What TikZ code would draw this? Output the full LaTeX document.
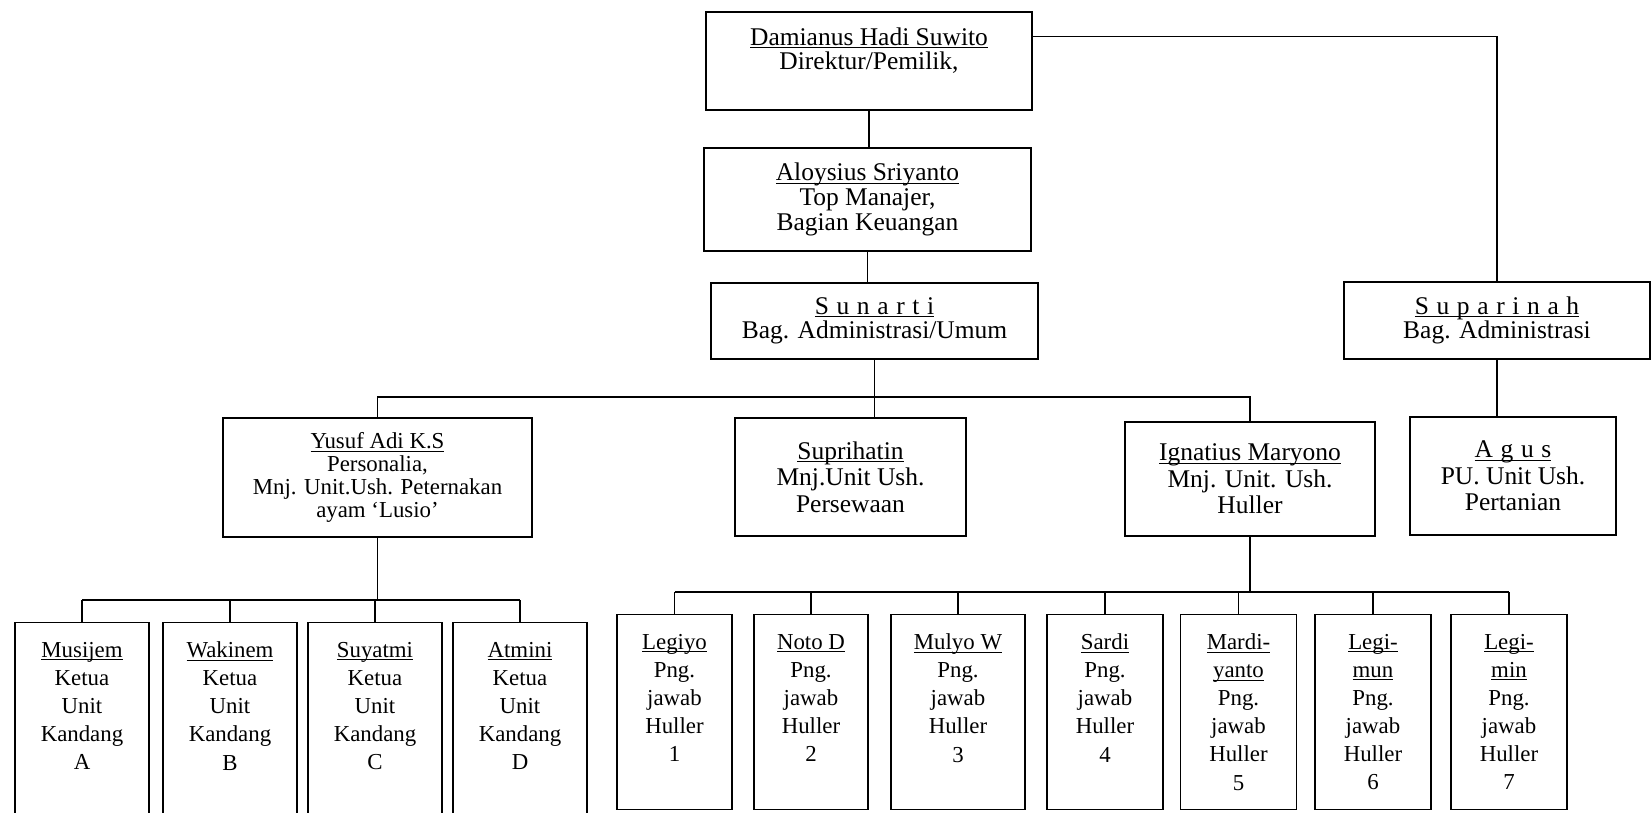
\documentclass[tikz,border=0pt]{standalone}
\usepackage{fontspec}
\setmainfont{Liberation Serif}
\usetikzlibrary{calc}
\newcommand{\spaced}[1]{{\addfontfeature{LetterSpace=30}#1}}
\newcommand{\nm}[1]{\underline{\raisebox{0pt}[\height][0pt]{#1}}}
\tikzset{
  box/.style={draw,line width=0.9pt,align=center,inner sep=0pt},
  big/.style={box,font=\fontsize{14.5}{14}\selectfont},
  mid/.style={box,font=\fontsize{14.5}{15}\selectfont},
  unit/.style={box,font=\fontsize{13}{16}\selectfont,minimum height=3.9cm},
  link/.style={line width=0.7pt},
}
\begin{document}
\begin{tikzpicture}
  \useasboundingbox (0,0) rectangle (33.04,16.26);
  % top of the chart
  \node[big,minimum width=6.52cm,minimum height=1.96cm] (damianus) at (17.38,15.04) {\nm{Damianus Hadi Suwito}\\Direktur/Pemilik,\\ {}};
  \node[big,minimum width=6.54cm,minimum height=2.06cm] (aloysius) at (17.35,12.27) {\nm{Aloysius Sriyanto}\\Top Manajer,\\Bagian Keuangan};
  \node[big,minimum width=6.54cm,minimum height=1.52cm] (sunarti) at (17.49,9.84) {\nm{\spaced{Sunarti}}\\Bag. Administrasi/Umum};
  \node[big,minimum width=6.12cm,minimum height=1.54cm] (suparinah) at (29.94,9.85) {\nm{\spaced{Suparinah}}\\Bag. Administrasi};
  % managers
  \node[box,font=\fontsize{13}{13}\selectfont,minimum width=6.18cm,minimum height=2.38cm] (yusuf) at (7.55,6.71) {\nm{Yusuf Adi K.S}\\Personalia,\\Mnj. Unit.Ush. Peternakan\\ayam ‘Lusio’};
  \node[mid,minimum width=4.62cm,minimum height=2.36cm] (suprihatin) at (17.01,6.72) {\nm{Suprihatin}\\Mnj.Unit Ush.\\Persewaan};
  \node[mid,minimum width=5cm,minimum height=2.28cm] (ignatius) at (25.0,6.68) {\nm{Ignatius Maryono}\\Mnj. Unit. Ush.\\Huller};
  \node[mid,minimum width=4.12cm,minimum height=2.36cm] (agus) at (30.26,6.74) {\nm{\spaced{Agus}}\\PU. Unit Ush.\\Pertanian};
  % kandang
  \foreach \nama/\x/\k in {Musijem/1.64/A,Wakinem/4.60/B,Suyatmi/7.50/C,Atmini/10.40/D}
    \node[unit,minimum width=2.68cm] (kandang\k) at (\x,1.86) {\nm{\nama}\\Ketua\\Unit\\Kandang\\\k\\ {}};
  % huller
  \foreach \nama/\x/\w/\i in {Legiyo/13.49/2.30/1,{Noto D}/16.22/2.28/2,{Mulyo W}/19.16/2.68/3,Sardi/22.10/2.32/4}
    \node[unit,minimum width=\w cm] (huller\i) at (\x,2.02) {\nm{\nama}\\Png.\\jawab\\Huller\\\i\\ {}};
  \foreach \nama/\sisa/\x/\i in {Mardi-/yanto/24.77/5,Legi-/mun/27.46/6,Legi-/min/30.18/7}
    \node[unit,minimum width=2.32cm] (huller\i) at (\x,2.02) {\nm{\nama}\\\nm{\sisa}\\Png.\\jawab\\Huller\\\i};
  % connectors
  \draw[link] ($(damianus.north east)+(0,-0.5)$) -| (suparinah.north);
  \draw[link] (damianus.south) -- (damianus.south |- aloysius.north);
  \draw[link] (aloysius.south) -- (aloysius.south |- sunarti.north);
  \draw[link] (suparinah.south) -- (suparinah.south |- agus.north);
  \coordinate (bus) at (sunarti.south |- 0,8.32);
  \draw[link] (sunarti.south) -- (sunarti.south |- suprihatin.north);
  \draw[link] (yusuf.north) |- (bus) -| (ignatius.north);
  \coordinate (kbus) at (yusuf.south |- 0,4.26);
  \draw[link] (yusuf.south) -- (kbus);
  \foreach \k in {A,B,C,D} \draw[link] (kandang\k.north) -- (kandang\k.north |- kbus);
  \draw[link] (kandangA.north |- kbus) -- (kandangD.north |- kbus);
  \coordinate (hbus) at (ignatius.south |- 0,4.42);
  \draw[link] (ignatius.south) -- (hbus);
  \foreach \i in {1,...,7} \draw[link] (huller\i.north) -- (huller\i.north |- hbus);
  \draw[link] (huller1.north |- hbus) -- (huller7.north |- hbus);
\end{tikzpicture}
\end{document}
